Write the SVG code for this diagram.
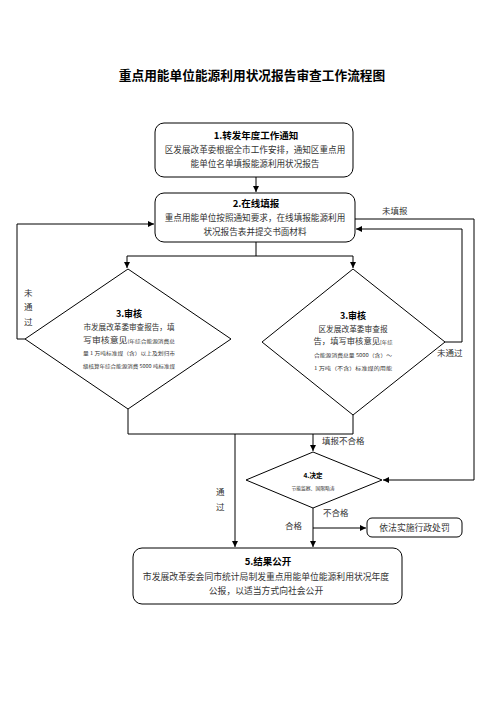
<svg xmlns="http://www.w3.org/2000/svg" width="504" height="713" viewBox="0 0 504 713">
<style>
.bg{fill:#fff}
.box{fill:#fff;stroke:#000;stroke-width:1}
.ln{fill:none;stroke:#000;stroke-width:1}
.t{font-family:"Noto Sans CJK SC","Noto Sans",sans-serif;fill:#333;text-anchor:middle}
.h{font-family:"Noto Sans CJK SC","Noto Sans",sans-serif;fill:#000;font-weight:bold;text-anchor:middle}
.lb{font-family:"Noto Sans CJK SC","Noto Sans",sans-serif;fill:#333;font-size:8.5px}
</style>
<defs>
<marker id="ar" markerUnits="userSpaceOnUse" markerWidth="7" markerHeight="7" refX="6" refY="3" orient="auto">
<path d="M0,0 L6,3 L0,6 z" fill="#000"/>
</marker>
</defs>
<rect class="bg" x="0" y="0" width="504" height="713"/>
<text class="h" x="252" y="80" font-size="12.7">重点用能单位能源利用状况报告审查工作流程图</text>

<g id="n1">
<rect class="box" x="155" y="123" width="198" height="54" rx="9"/>
<text class="h" x="256" y="139" font-size="9.5">1.转发年度工作通知</text>
<text class="t" x="255" y="153" font-size="8.6">区发展改革委根据全市工作安排，通知区重点用</text>
<text class="t" x="255" y="167" font-size="8.6">能单位名单填报能源利用状况报告</text>
</g>

<g id="n2">
<rect class="box" x="155" y="193" width="200" height="49" rx="9"/>
<text class="h" x="256" y="207" font-size="9.5">2.在线填报</text>
<text class="t" x="255" y="221" font-size="8.6">重点用能单位按照通知要求，在线填报能源利用</text>
<text class="t" x="255" y="235" font-size="8.6">状况报告表并提交书面材料</text>
</g>

<g id="n3a">
<polygon class="box" points="128,269 231,339 128,409 25,339"/>
<text class="h" x="129" y="317" font-size="9">3.审核</text>
<text class="t" x="129" y="330" font-size="7.6">市发展改革委审查报告，填</text>
<text class="t" x="129" y="343" font-size="7.8" textLength="92" lengthAdjust="spacingAndGlyphs">写审核意见<tspan font-size="5">(年综合能源消费总</tspan></text>
<text class="t" x="129" y="355" font-size="5" textLength="92" lengthAdjust="spacingAndGlyphs">量 1 万吨标准煤（含）以上及划归市</text>
<text class="t" x="129" y="368" font-size="5" textLength="92" lengthAdjust="spacingAndGlyphs">级核算年综合能源消费 5000 吨标准煤</text>
</g>

<g id="n3b">
<polygon class="box" points="353,269 445,342 353,415 262,342"/>
<text class="h" x="353" y="319" font-size="9">3.审核</text>
<text class="t" x="353" y="332" font-size="7.7">区发展改革委审查报</text>
<text class="t" x="353" y="344" font-size="7.8" textLength="79" lengthAdjust="spacingAndGlyphs">告，填写审核意见<tspan font-size="5">[年综</tspan></text>
<text class="t" x="353" y="357" font-size="5" textLength="78" lengthAdjust="spacingAndGlyphs">合能源消费总量 5000（含）～</text>
<text class="t" x="353" y="370" font-size="5" textLength="78" lengthAdjust="spacingAndGlyphs">1 万吨（不含）标准煤的用能</text>
</g>

<g id="n4">
<polygon class="box" points="313,452 382,480 313,508 246,480"/>
<text class="h" x="313" y="478" font-size="6.5">4.决定</text>
<text class="t" x="313" y="490" font-size="4.8">节能监察、国限略涛</text>
</g>

<g id="n5">
<rect class="box" x="367" y="518" width="95" height="19" rx="5"/>
<text class="t" x="414.5" y="531" font-size="8.8">依法实施行政处罚</text>
</g>

<g id="n6">
<rect class="box" x="133" y="548" width="269" height="56" rx="9"/>
<text class="h" x="268" y="565" font-size="9.5">5.结果公开</text>
<text class="t" x="266" y="580" font-size="8.8">市发展改革委会同市统计局制发重点用能单位能源利用状况年度</text>
<text class="t" x="266" y="594" font-size="8.8">公报，以适当方式向社会公开</text>
</g>

<g id="connectors">
<path class="ln" d="M256,177 V192" marker-end="url(#ar)"/>
<path class="ln" d="M256,242 V256 M127,256 H353"/>
<path class="ln" d="M127,256 V268" marker-end="url(#ar)"/>
<path class="ln" d="M353,256 V268" marker-end="url(#ar)"/>
<path class="ln" d="M25,339 H17 V224 H154" marker-end="url(#ar)"/>
<path class="ln" d="M445,342 H462 V229 H356" marker-end="url(#ar)" stroke-width="1.3"/>
<path class="ln" d="M355,219 H474 V480 H383" marker-end="url(#ar)"/>
<path class="ln" d="M128,409 V434 H353 V415"/>
<path class="ln" d="M235,434 V547" marker-end="url(#ar)"/>
<path class="ln" d="M313,434 V451" marker-end="url(#ar)"/>
<path class="ln" d="M313,508 V547" marker-end="url(#ar)"/>
<path class="ln" d="M313,528 H366" marker-end="url(#ar)" stroke-width="1.3"/>
</g>

<g id="labels">
<text class="lb" x="382" y="214">未填报</text>
<text class="lb" x="437" y="356">未通过</text>
<text class="lb" x="24" y="296">未</text>
<text class="lb" x="24" y="310">通</text>
<text class="lb" x="24" y="325">过</text>
<text class="lb" x="322" y="444" font-size="7.6">填报不合格</text>
<text class="lb" x="216" y="495">通</text>
<text class="lb" x="216" y="510">过</text>
<text class="lb" x="323" y="516">不合格</text>
<text class="lb" x="285" y="529" font-size="7.6">合格</text>
</g>
</svg>
